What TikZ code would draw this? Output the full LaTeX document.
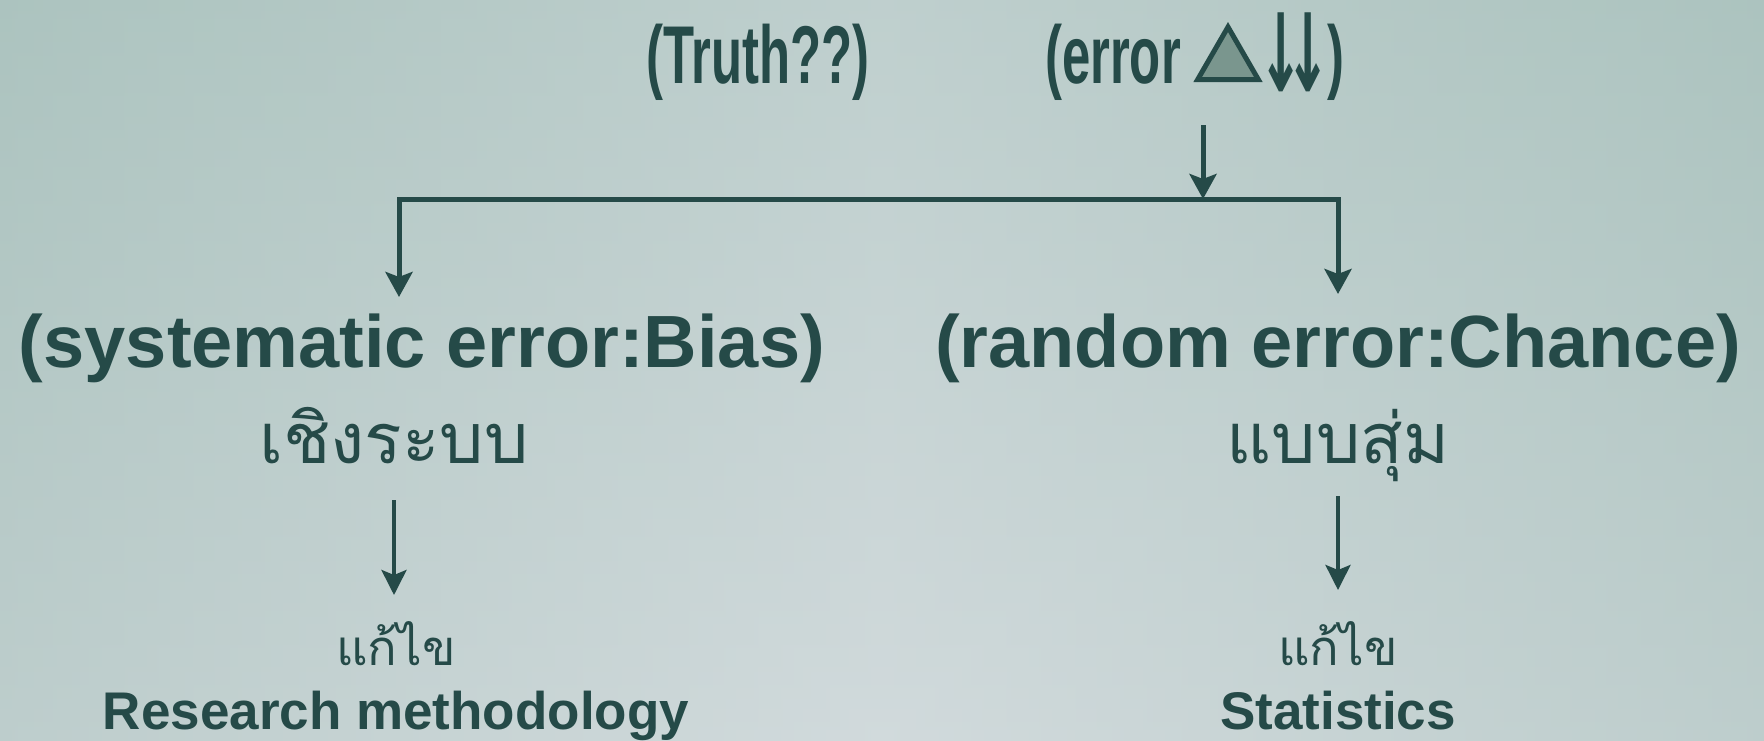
\documentclass[tikz,border=0pt]{standalone}
\usepackage{fontspec}
\setmainfont{Liberation Sans}
\newfontfamily\condfont[FakeStretch=0.62]{Liberation Sans}
\newfontfamily\arrowfont[FakeStretch=0.5]{DejaVu Sans}
\newfontfamily\thaifont[Script=Thai]{Loma}
\usepackage{tikz}
\usetikzlibrary{arrows.meta,positioning,calc,shapes.geometric}
\definecolor{slateink}{RGB}{37,74,72}
\definecolor{trifill}{RGB}{122,150,142}
\definecolor{bgedge}{RGB}{170,193,189}
\definecolor{bgtop}{RGB}{174,198,193}
\definecolor{bgmid}{RGB}{209,218,220}

\begin{document}
\begin{tikzpicture}[
  x=1pt,y=-1pt,
  every node/.style={text=slateink,inner sep=0pt,anchor=base},
  head/.style={font=\condfont\bfseries\fontsize{82}{90}\selectfont},
  kind/.style={font=\bfseries\fontsize{74}{80}\selectfont},
  thai/.style={font=\thaifont\fontsize{70}{80}\selectfont},
  fix/.style={font=\thaifont\fontsize{49}{56}\selectfont},
  remedy/.style={font=\bfseries\fontsize{53}{60}\selectfont},
  tri/.style={regular polygon,regular polygon sides=3,draw=slateink,fill=trifill,line width=5pt,minimum size=70pt,anchor=center},
  arr/.style={draw=slateink,line width=5pt,-{Stealth[length=25pt,width=27pt,inset=5pt]}},
  arrthin/.style={draw=slateink,line width=4pt,-{Stealth[length=25pt,width=25pt,inset=5pt]}}
]
% background
\shade[left color=bgedge,right color=bgedge,middle color=bgmid] (0,0) rectangle (1764,740);
\shade[top color=bgtop,bottom color=bgmid,opacity=0.5] (0,0) rectangle (1764,740);
\useasboundingbox (0,0) rectangle (1764,740);

% heading
\node[head] (truth) at (758,83) {(Truth??)};
\node[head,anchor=base west] (err) at (1045,83) {(error};
\node[tri] (delta) at (1228,62) {};
\node[head,anchor=base west] (dn) at (1258,83) {{\arrowfont\fontsize{108}{108}\selectfont\raisebox{-8pt}{↓\kern-18pt↓}}\kern-3pt)};

\coordinate (errOut) at (1203,125);
\coordinate (fork) at (1203,199);
\coordinate (biasIn) at (399,297);
\coordinate (chanceIn) at (1338,294);

% two kinds of error
\node[kind] (bias) at (422,367) {(systematic error:Bias)};
\node[kind] (chance) at (1338,367) {(random error:Chance)};
\node[thai] (sysTh) at (394,463) {เชิงระบบ};
\node[thai] (randTh) at (1338,463) {แบบสุ่ม};

% remedies
\node[fix] (fixL) at (396,665) {แก้ไข};
\node[fix] (fixR) at (1338,665) {แก้ไข};
\node[remedy,below=64pt of fixL.base,anchor=base] (method) {Research methodology};
\node[remedy,below=64pt of fixR.base,anchor=base] (stats) {Statistics};

\draw[arr] (fork) -| (biasIn);
\draw[arr] (fork) -| (chanceIn);
\draw[arr] (errOut) -- (fork);
\draw[arrthin] ($(sysTh.base)+(0,37)$) -- ($(sysTh.base |- fixL.base)+(0,-70)$);
\draw[arrthin] ($(randTh.base)+(0,33)$) -- ($(randTh.base |- fixR.base)+(0,-75)$);
\end{tikzpicture}
\end{document}
